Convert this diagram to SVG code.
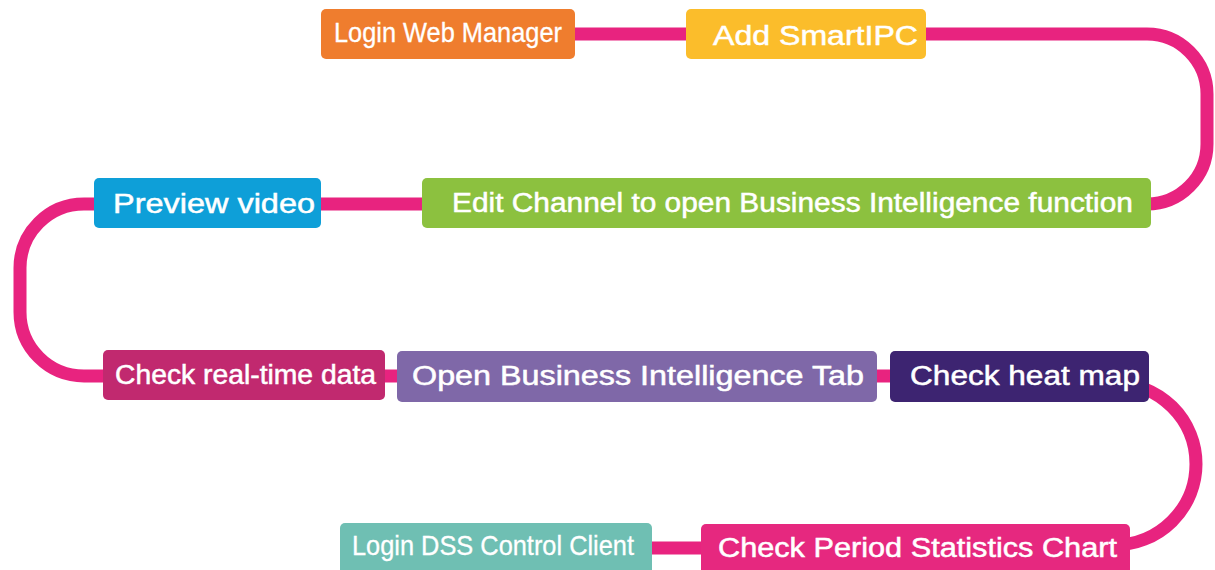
<svg xmlns="http://www.w3.org/2000/svg" width="1215" height="570" viewBox="0 0 1215 570">
<style>
.c{fill:none;stroke:#e8237f;stroke-width:13}
.t{font-family:"Liberation Sans",Arial,sans-serif;fill:#fff;stroke:#fff;stroke-width:0.5;font-size:27px}
.n{font-family:"Liberation Sans",Arial,sans-serif;fill:#fff;stroke:#fff;stroke-width:0.3;font-size:28px}
</style>
<rect width="1215" height="570" fill="#fff"/>
<g id="connectors">
<path class="c" d="M575,34 H686"/>
<path class="c" d="M926,34 H1147 A60,60 0 0 1 1207,94 V144 A60,60 0 0 1 1147,204 H1140"/>
<path class="c" d="M422,204 H321"/>
<path class="c" d="M94,204 H84 A64,64 0 0 0 20,268 V312 A64,64 0 0 0 84,376 H103"/>
<path class="c" d="M385,376 H397"/>
<path class="c" d="M877,376 H890"/>
<path class="c" d="M1114,383 A82,81 0 0 1 1114,545"/>
<path class="c" d="M652,548 H701"/>
</g>
<g id="login-web">
<rect x="321" y="9" width="254" height="50" rx="5" fill="#ef7d2e"/>
<text class="n" x="334" y="42" textLength="228" lengthAdjust="spacingAndGlyphs">Login Web Manager</text>
</g>
<g id="add-smartipc">
<rect x="686" y="9" width="240" height="50" rx="5" fill="#fbbd2b"/>
<text class="t" x="713" y="45" font-size="29" textLength="205" lengthAdjust="spacingAndGlyphs">Add SmartIPC</text>
</g>
<g id="edit-channel">
<rect x="422" y="178" width="729" height="50" rx="5" fill="#8cc13f"/>
<text class="t" x="452" y="212" textLength="681" lengthAdjust="spacingAndGlyphs">Edit Channel to open Business Intelligence function</text>
</g>
<g id="preview-video">
<rect x="94" y="178" width="227" height="50" rx="5" fill="#0e9fd8"/>
<text class="t" x="113" y="213" textLength="202" lengthAdjust="spacingAndGlyphs">Preview video</text>
</g>
<g id="check-realtime">
<rect x="103" y="350" width="282" height="50" rx="5" fill="#c1296f"/>
<text class="t" x="115" y="384" font-size="26" textLength="261" lengthAdjust="spacingAndGlyphs">Check real-time data</text>
</g>
<g id="open-bi-tab">
<rect x="397" y="351" width="480" height="51" rx="5" fill="#7f68a8"/>
<text class="t" x="412" y="385" font-size="28" textLength="452" lengthAdjust="spacingAndGlyphs">Open Business Intelligence Tab</text>
</g>
<g id="check-heat-map">
<rect x="890" y="351" width="259" height="51" rx="5" fill="#3d2471"/>
<text class="t" x="910" y="385" font-size="28" textLength="230" lengthAdjust="spacingAndGlyphs">Check heat map</text>
</g>
<g id="check-period">
<rect x="701" y="524" width="429" height="56" rx="5" fill="#e6287f"/>
<text class="t" x="718" y="557" font-size="28" textLength="399" lengthAdjust="spacingAndGlyphs">Check Period Statistics Chart</text>
</g>
<g id="login-dss">
<rect x="340" y="523" width="312" height="56" rx="5" fill="#6fbfb3"/>
<text class="n" x="352" y="555" textLength="282" lengthAdjust="spacingAndGlyphs">Login DSS Control Client</text>
</g>
</svg>
